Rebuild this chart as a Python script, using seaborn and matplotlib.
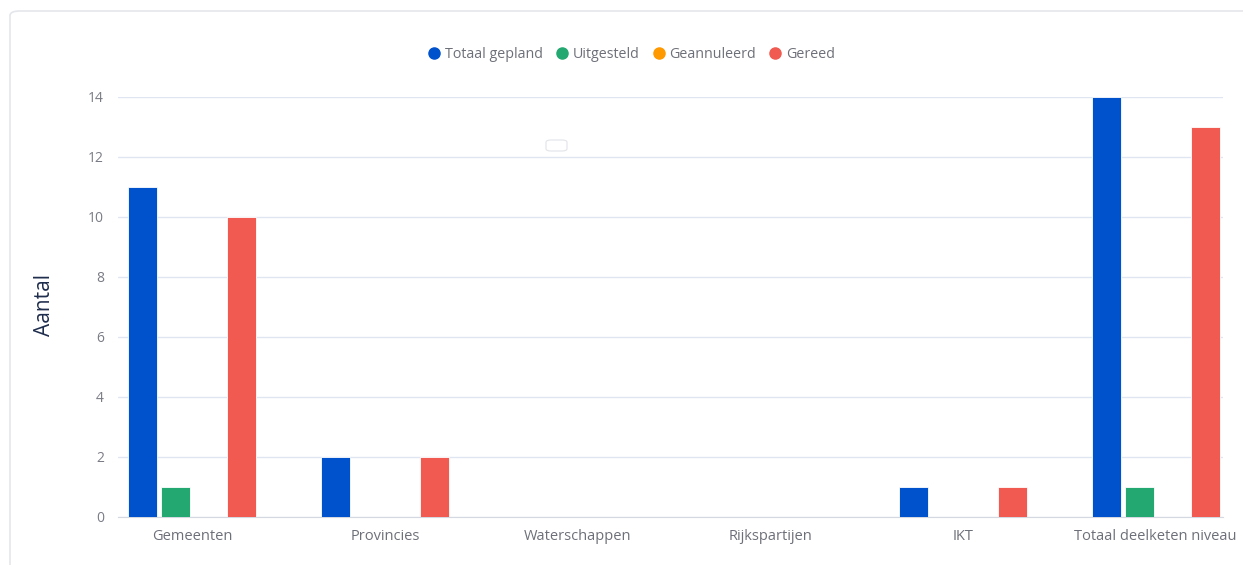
import pandas as pd
import seaborn as sns
import matplotlib.pyplot as plt
from matplotlib.patches import FancyBboxPatch
from matplotlib.lines import Line2D

# chart data
categories = ['Gemeenten', 'Provincies', 'Waterschappen', 'Rijkspartijen', 'IKT', 'Totaal deelketen niveau']
series = ['Totaal gepland', 'Uitgesteld', 'Geannuleerd', 'Gereed']
totaal_gepland = [11, 2, 0, 0, 1, 14]
uitgesteld = [1, 0, 0, 0, 0, 1]
geannuleerd = [0, 0, 0, 0, 0, 0]
gereed = [10, 2, 0, 0, 1, 13]
y_ticks = [0, 2, 4, 6, 8, 10, 12, 14]

colors = ['#0052cc', '#23a871', '#ff9900', '#f05a50']

rows = []
for name, vals in zip(series, [totaal_gepland, uitgesteld, geannuleerd, gereed]):
    for cat, v in zip(categories, vals):
        rows.append({'categorie': cat, 'reeks': name, 'aantal': v})
df = pd.DataFrame(rows)

sns.set_style('white')
plt.rcParams['font.family'] = ['Open Sans', 'DejaVu Sans']

fig = plt.figure(figsize=(12.43, 5.65), dpi=100)
ax = fig.add_axes([118 / 1243, 1 - 517 / 565, (1223 - 118) / 1243, (517 - 97) / 565])

# card background
card = FancyBboxPatch((10 / 1243, -0.05), 1.1, 1 - 11 / 565 + 0.05,
                      boxstyle='round,pad=0,rounding_size=0.008',
                      transform=fig.transFigure, facecolor='white',
                      edgecolor='#e4e6eb', linewidth=1.2, zorder=-10)
fig.patches.append(card)

sns.barplot(data=df, x='categorie', y='aantal', hue='reeks', hue_order=series,
            order=categories, palette=colors, width=0.685, gap=0.12,
            saturation=1, legend=False, ax=ax, zorder=3)
for p in ax.patches:
    p.set_edgecolor('white')
    p.set_linewidth(0.6)

ax.set_xlim(-0.385, 5.35)
ax.set_ylim(0, 14)
ax.set_yticks(y_ticks)
ax.grid(axis='y', color='#e0e6f1', linewidth=1, zorder=0)
ax.set_axisbelow(True)
for s in ['top', 'right', 'left']:
    ax.spines[s].set_visible(False)
ax.spines['bottom'].set_color('#d4d8e0')
ax.tick_params(axis='x', length=5, color='#d4d8e0', labelsize=10.5,
               labelcolor='#6e7079', pad=4)
ax.tick_params(axis='y', length=0, labelsize=10, labelcolor='#7a7c85', pad=10)
ax.set_xlabel('')
ax.set_ylabel('')

fig.text(45 / 1243, 1 - 305 / 565, 'Aantal', rotation=90, ha='center', va='center',
         fontsize=15, color='#1f2d4d')

# legend
handles = [Line2D([0], [0], marker='o', linestyle='', markersize=8,
                  markerfacecolor=c, markeredgecolor=c) for c in colors]
fig.legend(handles, series, loc='center', bbox_to_anchor=(630 / 1243, 1 - 55 / 565),
           ncol=4, frameon=False, fontsize=10.3, labelcolor='#6e7079',
           handletextpad=0.15, columnspacing=0.75, handlelength=1.2)

# small tooltip remnant
tip = FancyBboxPatch((546 / 1243, 1 - 151 / 565), 21 / 1243, 11 / 565,
                     boxstyle='round,pad=0,rounding_size=0.004',
                     transform=fig.transFigure, facecolor='white',
                     edgecolor='#e2e4e8', linewidth=0.8, zorder=10)
fig.patches.append(tip)

fig.savefig('out.png', dpi=100)
